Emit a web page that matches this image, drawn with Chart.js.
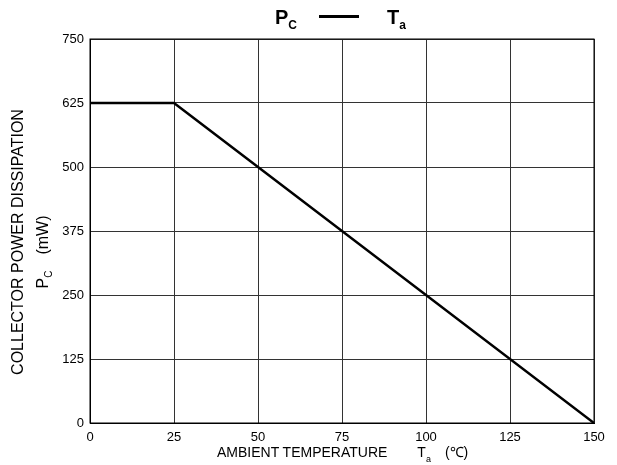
<!DOCTYPE html>
<html>
<head>
<meta charset="utf-8">
<script src="https://cdn.jsdelivr.net/npm/chart.js@4"></script>
<style>
  html, body { margin: 0; padding: 0; background: #fff; }
  #wrap { position: relative; width: 617px; height: 465px; font-family: "Liberation Sans", Arial, sans-serif; color: #000; }
  canvas { position: absolute; left: 0; top: 0; }
  .lbl { position: absolute; white-space: nowrap; line-height: 1; }
  #title { left: 275px; top: 7px; font-size: 20px; font-weight: bold; }
  #title sub { font-size: 12px; vertical-align: -5px; }
  #title .dash { display: inline-block; width: 40px; height: 3px; background: #000; vertical-align: 6px; margin: 0 28px 0 22px; }
  #xtitle { left: 217px; top: 445px; font-size: 14px; }
  #xtitle sub { font-size: 9px; vertical-align: -5px; }
  #xtitle .t { margin-left: 30px; }
  #xtitle .u { margin-left: 14px; }
  .yt { font-size: 16px; transform: translate(-50%, -50%) rotate(-90deg); }
  #ytitle1 { left: 18px; top: 242px; }
  #ytitle2 { left: 44px; top: 252px; }
  .yt sub { font-size: 10px; vertical-align: -4px; }
  .yt .u { margin-left: 16px; }
</style>
</head>
<body>
<div id="wrap">
  <canvas id="chart" width="617" height="465"></canvas>
  <div class="lbl" id="title">P<sub>C</sub><span class="dash"></span>T<sub>a</sub></div>
  <div class="lbl yt" id="ytitle1">COLLECTOR POWER DISSIPATION</div>
  <div class="lbl yt" id="ytitle2">P<sub>C</sub><span class="u">(mW)</span></div>
  <div class="lbl" id="xtitle">AMBIENT TEMPERATURE<span class="t">T<sub>a</sub></span><span class="u">(&#8451;)</span></div>
</div>
<script>
// derating curve
const temps = [0, 25, 150];
const power = [625, 625, 0];
const xTicks = [0, 25, 50, 75, 100, 125, 150];
const yTicks = [0, 125, 250, 375, 500, 625, 750];

new Chart(document.getElementById('chart'), {
  type: 'line',
  data: {
    datasets: [{
      data: temps.map((t, i) => ({ x: t, y: power[i] })),
      borderColor: '#000',
      borderWidth: 2.5,
      pointRadius: 0,
      tension: 0
    }]
  },
  options: {
    responsive: false,
    animation: false,
    layout: { padding: { left: 0, top: 39, right: 23, bottom: 0 } },
    plugins: { legend: { display: false }, tooltip: { enabled: false } },
    scales: {
      x: {
        type: 'linear',
        min: xTicks[0],
        max: xTicks[xTicks.length - 1],
        afterBuildTicks: s => { s.ticks = xTicks.map(v => ({ value: v })); },
        afterFit: s => { s.height = 42; },
        grid: { color: '#333', lineWidth: 1, drawTicks: false },
        border: { color: '#000', width: 1 },
        ticks: { color: '#000', padding: 7, maxRotation: 0, font: { family: 'Liberation Sans', size: 13 } }
      },
      y: {
        min: yTicks[0],
        max: yTicks[yTicks.length - 1],
        afterBuildTicks: s => { s.ticks = yTicks.map(v => ({ value: v })); },
        afterFit: s => { s.width = 90; },
        grid: { color: '#333', lineWidth: 1, drawTicks: false },
        border: { color: '#000', width: 1 },
        ticks: { color: '#000', padding: 6, font: { family: 'Liberation Sans', size: 13 } }
      }
    }
  },
  plugins: [{
    id: 'frame',
    afterDraw(chart) {
      const { ctx, chartArea: a } = chart;
      ctx.save();
      ctx.strokeStyle = '#000';
      ctx.lineWidth = 1;
      ctx.strokeRect(a.left, a.top, a.right - a.left, a.bottom - a.top);
      ctx.restore();
    }
  }]
});
</script>
</body>
</html>
